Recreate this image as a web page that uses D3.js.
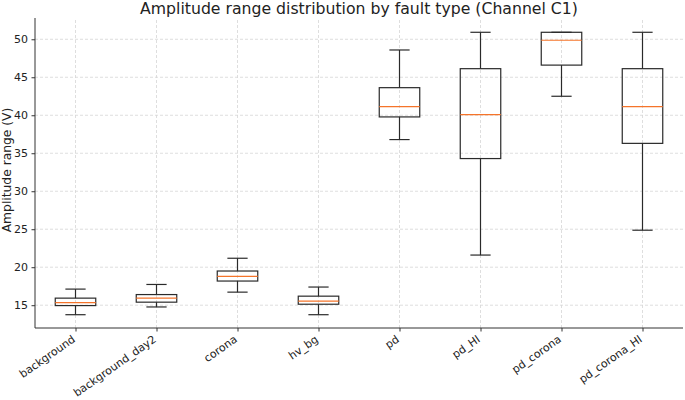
<!DOCTYPE html>
<html>
<head>
<meta charset="utf-8">
<script src="https://cdn.jsdelivr.net/npm/d3@7"></script>
<style>
  html, body { margin: 0; padding: 0; background: #fff; }
  svg { display: block; font-family: "DejaVu Sans", sans-serif; }
</style>
</head>
<body>
<svg id="chart" width="685" height="400"></svg>
<script>
const categories = ["background", "background_day2", "corona", "hv_bg", "pd", "pd_HI", "pd_corona", "pd_corona_HI"];
const whiskerLow = [13.75, 14.77, 16.72, 13.75, 36.8, 21.6, 42.5, 24.87];
const q1Values   = [14.95, 15.4, 18.18, 15.13, 39.78, 34.3, 46.6, 36.3];
const medians    = [15.35, 15.93, 18.8, 15.53, 41.13, 40.08, 49.87, 41.13];
const q3Values   = [15.93, 16.4, 19.5, 16.19, 43.63, 46.13, 50.92, 46.13];
const whiskerHigh= [17.12, 17.73, 21.18, 17.39, 48.59, 50.92, 50.92, 50.92];
const yTicks = [15, 20, 25, 30, 35, 40, 45, 50];
const titleText = "Amplitude range distribution by fault type (Channel C1)";
const yLabel = "Amplitude range (V)";

const svg = d3.select("#chart");
const margin = {left: 35, right: 2, top: 18, bottom: 72};
const W = 685, H = 400;
const x0 = margin.left, x1 = W - margin.right, y0 = H - margin.bottom, y1 = margin.top;

const x = d3.scaleLinear().domain([0.5, categories.length + 0.5]).range([x0, x1]);
const y = d3.scaleLinear().domain([12.0, 52.8]).range([y0, y1]);

const data = categories.map((c, i) => ({
  c, i: i + 1, lo: whiskerLow[i], q1: q1Values[i], med: medians[i], q3: q3Values[i], hi: whiskerHigh[i]
}));

// grid
const grid = svg.append("g").attr("stroke", "#d6d6d6").attr("stroke-width", 0.8).attr("stroke-dasharray", "3,2");
grid.selectAll("line.h").data(yTicks).join("line")
  .attr("x1", x0).attr("x2", x1).attr("y1", d => y(d)).attr("y2", d => y(d));
grid.selectAll("line.v").data(data).join("line")
  .attr("x1", d => x(d.i)).attr("x2", d => x(d.i)).attr("y1", y0).attr("y2", y1);

// boxes
const boxW = (x(1.25) - x(0.75));
const capW = boxW / 2;
const stroke = "#2a2a2a";
const g = svg.append("g");
const bx = g.selectAll("g.box").data(data).join("g");
bx.append("line").attr("stroke", stroke).attr("stroke-width", 1.2)
  .attr("x1", d => x(d.i)).attr("x2", d => x(d.i)).attr("y1", d => y(d.hi)).attr("y2", d => y(d.q3));
bx.append("line").attr("stroke", stroke).attr("stroke-width", 1.2)
  .attr("x1", d => x(d.i)).attr("x2", d => x(d.i)).attr("y1", d => y(d.q1)).attr("y2", d => y(d.lo));
bx.append("line").attr("stroke", stroke).attr("stroke-width", 1.2)
  .attr("x1", d => x(d.i) - capW/2).attr("x2", d => x(d.i) + capW/2).attr("y1", d => y(d.hi)).attr("y2", d => y(d.hi));
bx.append("line").attr("stroke", stroke).attr("stroke-width", 1.2)
  .attr("x1", d => x(d.i) - capW/2).attr("x2", d => x(d.i) + capW/2).attr("y1", d => y(d.lo)).attr("y2", d => y(d.lo));
bx.append("rect").attr("fill", "none").attr("stroke", stroke).attr("stroke-width", 1.2)
  .attr("x", d => x(d.i) - boxW/2).attr("width", boxW)
  .attr("y", d => y(d.q3)).attr("height", d => y(d.q1) - y(d.q3));
bx.append("line").attr("stroke", "#f5742a").attr("stroke-width", 1.2)
  .attr("x1", d => x(d.i) - boxW/2).attr("x2", d => x(d.i) + boxW/2).attr("y1", d => y(d.med)).attr("y2", d => y(d.med));

// axes
const yAxis = d3.axisLeft(y).tickValues(yTicks).tickSize(3.5).tickPadding(3.5);
const yg = svg.append("g").attr("transform", `translate(${x0},0)`).call(yAxis);
yg.select(".domain").remove();
yg.selectAll("text").attr("font-size", 11).attr("fill", "#222").attr("font-family", "DejaVu Sans");
yg.selectAll("line").attr("stroke", "#333");

const xAxis = d3.axisBottom(x).tickValues(data.map(d => d.i)).tickFormat((d, i) => categories[i]).tickSize(3.5).tickPadding(3);
const xg = svg.append("g").attr("transform", `translate(0,${y0})`).call(xAxis);
xg.select(".domain").remove();
xg.selectAll("line").attr("stroke", "#333");
xg.selectAll("text").attr("font-size", 11).attr("fill", "#222").attr("font-family", "DejaVu Sans")
  .attr("text-anchor", "end").attr("dy", null).attr("y", 0)
  .attr("transform", "translate(0,13) rotate(-35)");

// spines
svg.append("line").attr("x1", x0).attr("x2", x0).attr("y1", y1).attr("y2", y0).attr("stroke", "#333").attr("stroke-width", 1);
svg.append("line").attr("x1", x0).attr("x2", x1).attr("y1", y0).attr("y2", y0).attr("stroke", "#333").attr("stroke-width", 1);

// title and label
svg.append("text").attr("x", (x0 + x1) / 2).attr("y", 14).attr("text-anchor", "middle")
  .attr("font-size", 15.7).attr("fill", "#222").text(titleText);
svg.append("text").attr("transform", `translate(11,${(y0 + y1) / 2 - 3}) rotate(-90)`).attr("text-anchor", "middle")
  .attr("font-size", 12.3).attr("fill", "#222").text(yLabel);
</script>
</body>
</html>
